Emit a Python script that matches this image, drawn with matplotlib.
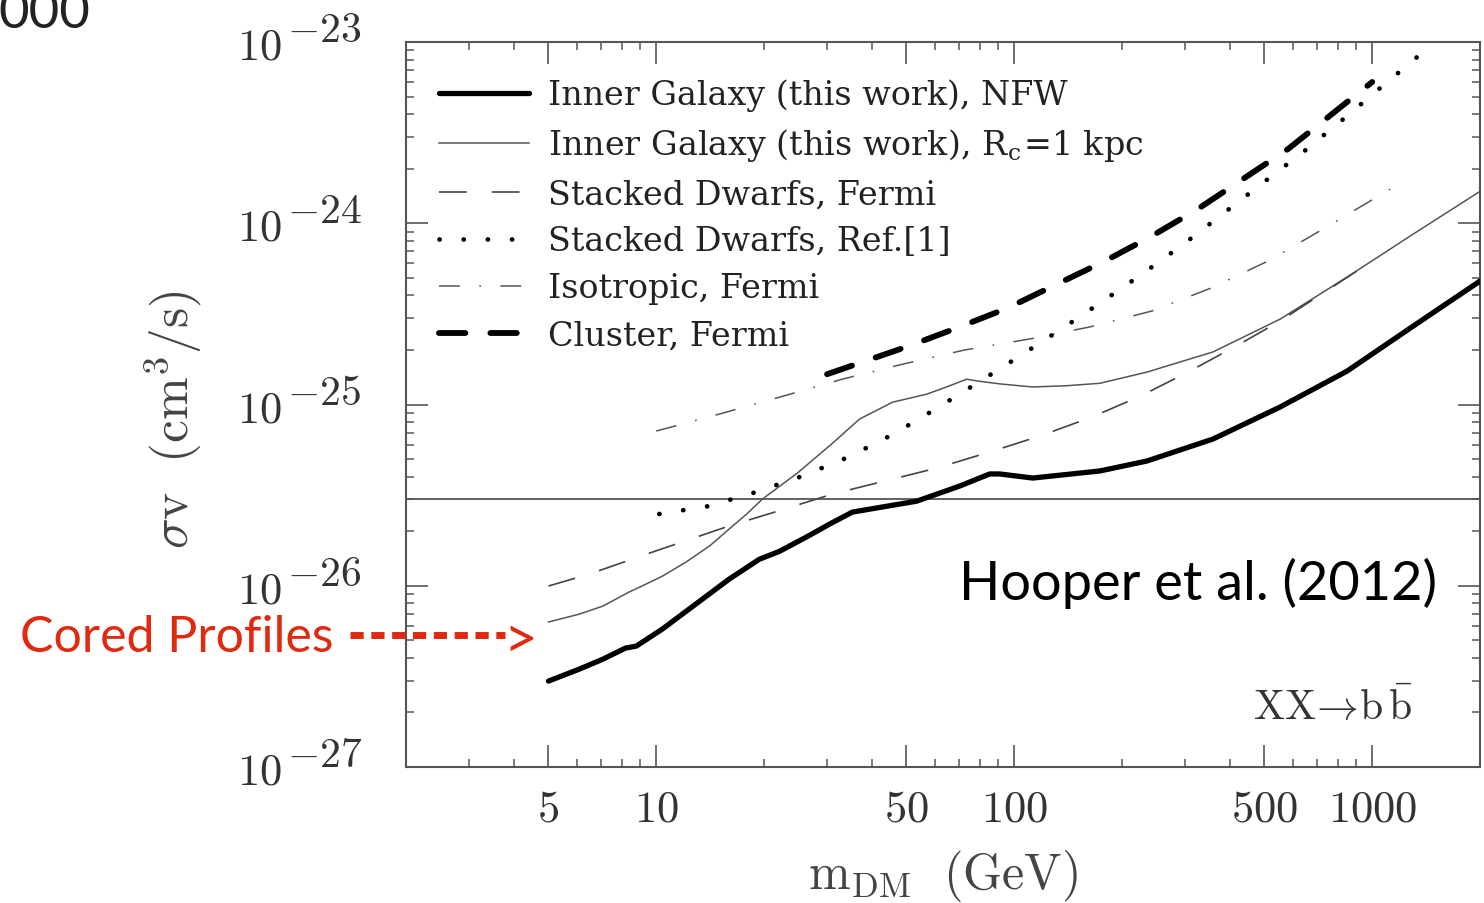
import matplotlib
matplotlib.use('Agg')

import matplotlib.pyplot as plt
from matplotlib.lines import Line2D
from matplotlib.ticker import FixedLocator, FixedFormatter, LogLocator, NullFormatter

plt.rcParams['mathtext.fontset'] = 'cm'
plt.rcParams['font.family'] = 'DejaVu Serif'
plt.rcParams['lines.scale_dashes'] = False

# Inner Galaxy, NFW (thick solid)
nfw_mass = [5.0, 6.1, 7.1, 8.2, 8.8, 10.4, 12.9, 16.0, 19.4, 22.1, 26.3, 30.5, 35.3,
            53.4, 70.4, 85.4, 91.1, 112.6, 173.5, 234.8, 359, 553, 851, 1302, 2000]
nfw_sv = [2.98e-27, 3.47e-27, 3.94e-27, 4.53e-27, 4.65e-27, 5.77e-27, 7.93e-27, 1.09e-26,
          1.40e-26, 1.55e-26, 1.86e-26, 2.19e-26, 2.55e-26, 2.93e-26, 3.55e-26, 4.14e-26,
          4.14e-26, 3.93e-26, 4.30e-26, 4.88e-26, 6.45e-26, 9.69e-26, 1.53e-25, 2.71e-25, 4.80e-25]

# Inner Galaxy, Rc = 1 kpc (thin solid)
core_mass = [5.0, 6.1, 7.1, 8.4, 9.0, 10.4, 12.1, 14.1, 16.0, 17.9, 19.8, 24.8, 30.9, 37.0,
             45.7, 56.9, 64.7, 73.6, 78.6, 91.1, 112.6, 140.3, 173.5, 234.8, 359, 553, 851,
             1302, 2000]
core_sv = [6.31e-27, 6.98e-27, 7.73e-27, 9.24e-27, 9.84e-27, 1.13e-26, 1.35e-26, 1.66e-26,
           2.06e-26, 2.49e-26, 3.01e-26, 4.19e-26, 6.06e-26, 8.32e-26, 1.03e-25, 1.14e-25,
           1.25e-25, 1.38e-25, 1.35e-25, 1.30e-25, 1.25e-25, 1.27e-25, 1.31e-25, 1.51e-25,
           1.95e-25, 2.96e-25, 5.05e-25, 8.72e-25, 1.50e-24]

# Stacked dwarfs, Fermi (thin dashed)
dw_mass = [5.0, 6.5, 10.0, 16.0, 22.4, 31.1, 43.4, 60.7, 85.4, 117.9, 164.8, 224.4, 305.7,
           416.5, 553, 1000]
dw_sv = [9.97e-27, 1.16e-26, 1.56e-26, 2.14e-26, 2.62e-26, 3.21e-26, 3.78e-26, 4.46e-26,
         5.47e-26, 6.70e-26, 8.53e-26, 1.11e-25, 1.51e-25, 2.10e-25, 2.89e-25, 6.19e-25]

# Stacked dwarfs, Ref.[1] (dotted)
ref1_mass = [10.2, 14.0, 19.0, 25.6, 34.4, 46.0, 60.3, 79.6, 103.6, 136.7, 176.9, 231.7,
             299.9, 385.5, 498.7, 641, 824, 1053, 1345]
ref1_sv = [2.49e-26, 2.75e-26, 3.29e-26, 4.03e-26, 5.13e-26, 6.87e-26, 9.45e-26, 1.33e-25,
           1.85e-25, 2.64e-25, 3.72e-25, 5.38e-25, 7.78e-25, 1.14e-24, 1.69e-24, 2.47e-24,
           3.71e-24, 5.58e-24, 8.37e-24]

# Isotropic, Fermi (dash-dot)
iso_mass = [10.0, 15.0, 19.4, 33.1, 48.8, 72.7, 110.5, 162.6, 242.4, 354.5, 511.8, 729.4, 1175]
iso_sv = [7.14e-26, 8.86e-26, 1.02e-25, 1.38e-25, 1.67e-25, 2.00e-25, 2.30e-25, 2.68e-25,
          3.28e-25, 4.39e-25, 6.19e-25, 9.30e-25, 1.63e-24]

# Cluster, Fermi (thick dashed)
clu_mass = [30, 50, 69, 95.9, 179.1, 242.4, 326, 582, 1000]
clu_sv = [1.47e-25, 2.08e-25, 2.64e-25, 3.41e-25, 6.19e-25, 8.51e-25, 1.20e-24, 2.57e-24, 6.02e-24]

relic_sv = 3e-26

x_major = [5, 10, 50, 100, 500, 1000]
x_labels = ['$5$', '$10$', '$50$', '$100$', '$500$', '$1000$']
y_decades = [-27, -26, -25, -24, -23]

labels = ['Inner Galaxy (this work), NFW',
          r'Inner Galaxy (this work), R$_\mathregular{c}$=1 kpc',
          'Stacked Dwarfs, Fermi',
          'Stacked Dwarfs, Ref.[1]',
          'Isotropic, Fermi',
          'Cluster, Fermi']

fig = plt.figure(figsize=(14.84, 9.04), dpi=100)
ax = fig.add_axes([0.2736, 0.1504, 0.7237, 0.802])
ax.set_xscale('log')
ax.set_yscale('log')

ax.axhline(relic_sv, color='#555555', lw=1.3, zorder=1)

l_nfw, = ax.plot(nfw_mass, nfw_sv, color='black', lw=3.8, solid_capstyle='round', zorder=5)
l_core, = ax.plot(core_mass, core_sv, color='#555555', lw=1.1, zorder=3)
l_dw, = ax.plot(dw_mass, dw_sv, color='#444444', lw=1.2, linestyle=(0, (20, 18)), zorder=3)
l_ref, = ax.plot(ref1_mass, ref1_sv, color='black', lw=3.4, linestyle=(0, (0.1, 17.3)),
                 dash_capstyle='round', zorder=4)
l_iso, = ax.plot(iso_mass, iso_sv, color='#555555', lw=1.1,
                 linestyle=(0, (15, 14, 1.2, 14)), zorder=3)
l_clu, = ax.plot(clu_mass, clu_sv, color='black', lw=4.2, linestyle=(0, (19, 18)),
                 dash_capstyle='round', zorder=4)

ax.set_xlim(2, 2000)
ax.set_ylim(1e-27, 1e-23)

ax.xaxis.set_major_locator(FixedLocator(x_major))
ax.xaxis.set_major_formatter(FixedFormatter(x_labels))
ax.xaxis.set_minor_locator(LogLocator(base=10, subs=range(2, 10), numticks=20))
ax.xaxis.set_minor_formatter(NullFormatter())
ax.yaxis.set_major_locator(FixedLocator([10.0 ** d for d in y_decades]))
ax.yaxis.set_minor_locator(LogLocator(base=10, subs=range(2, 10), numticks=20))
ax.yaxis.set_minor_formatter(NullFormatter())

ax.tick_params(which='both', direction='in', top=True, right=True, color='#555555',
               labelcolor='#333333', labelsize=32)
ax.tick_params(which='major', length=16, width=1.2)
ax.tick_params(which='minor', length=6, width=1.1)
ax.tick_params(axis='y', labelleft=False)
ax.tick_params(axis='x', which='major', pad=14)
for s in ax.spines.values():
    s.set_color('#555555')
    s.set_linewidth(1.5)

# y tick labels: big superscripts as in the original figure
for d in y_decades:
    ax.annotate('$10$', xy=(0, 10.0 ** d), xycoords=('axes fraction', 'data'),
                xytext=(-124, -4), textcoords='offset pixels', ha='right', va='center',
                fontsize=32, color='#333333', annotation_clip=False)
    ax.annotate('$-%d$' % abs(d), xy=(0, 10.0 ** d), xycoords=('axes fraction', 'data'),
                xytext=(-119, 13), textcoords='offset pixels', ha='left', va='center',
                fontsize=30, color='#333333', annotation_clip=False)

ax.set_ylabel(r'$\sigma\mathrm{v}\ \ (\mathrm{cm}^3/\mathrm{s})$', fontsize=37, color='#444444')
ax.yaxis.set_label_coords(-0.188, 0.48)
ax.set_xlabel(r'$\mathrm{m}_\mathrm{DM}\ \ (\mathrm{GeV})$', fontsize=36, color='#444444')
ax.xaxis.set_label_coords(0.5, -0.110)

leg = ax.legend([l_nfw, l_core, l_dw, l_ref, l_iso, l_clu], labels,
                loc='upper left', bbox_to_anchor=(0.031, 0.9495), frameon=False,
                fontsize=24, handlelength=2.7, handletextpad=0.55, labelspacing=0.45,
                borderpad=0, borderaxespad=0)
for t in leg.get_texts():
    t.set_color('#222222')

ax.text(0.937, 0.066, r'$\mathrm{XX}\!\rightarrow\!\mathrm{b\,\bar{b}}$', transform=ax.transAxes,
        ha='right', va='baseline', fontsize=30, color='#333333')

fig.text(0.9683, 0.3363, 'Hooper et al. (2012)', family='Lato', fontsize=39,
         ha='right', va='baseline', color='black')

red = '#e0290e'
fig.text(0.0135, 0.2788, 'Cored Profiles', family='Lato', fontsize=36,
         ha='left', va='baseline', color=red)
fig.add_artist(Line2D([0.236, 0.340], [0.2965, 0.2965], transform=fig.transFigure,
                      color=red, lw=5, linestyle=(0, (9.5, 5.5))))
fig.text(0.3395, 0.2965, '>', family='Lato', fontsize=42, ha='left', va='center_baseline',
         color=red)

fig.text(0.0606, 0.969, '000', family='Lato', fontsize=38, ha='right', va='baseline',
         color='#222222')

fig.savefig('out.png', dpi=100)
